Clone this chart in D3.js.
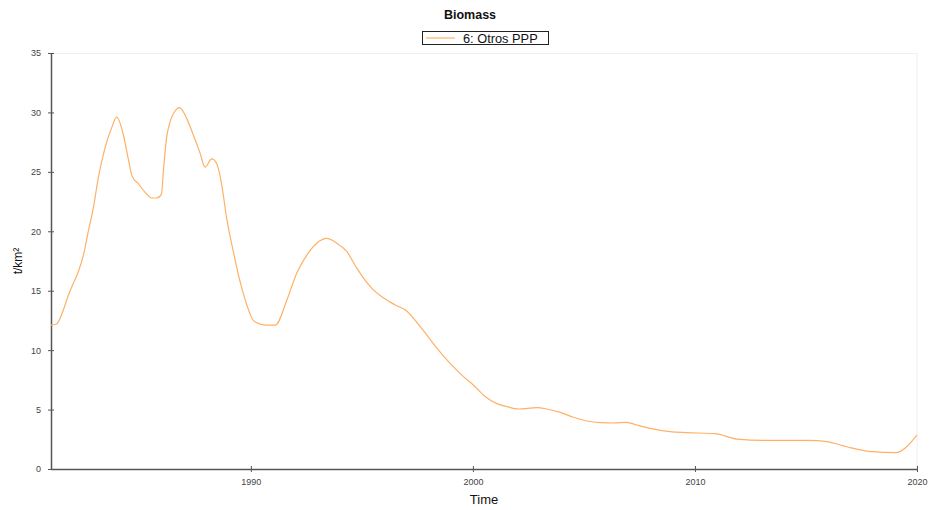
<!DOCTYPE html>
<html lang="en">
<head>
    <meta charset="UTF-8">
    <title>Biomass</title>
    <script src="https://d3js.org/d3.v7.min.js"></script>
    <style>
        body { margin: 0; background: #fff; font-family: "Liberation Sans", Arial, sans-serif; }
    </style>
</head>
<body>
<div id="chart"></div>

<script>
    // data
    var years = [1981.0, 1981.25, 1981.5, 1981.78, 1982.0, 1982.23, 1982.46, 1982.68, 1982.9, 1983.13,
        1983.43, 1983.73, 1983.96, 1984.26, 1984.48, 1984.66, 1984.93, 1985.23, 1985.54, 1985.76,
        1985.97, 1986.08, 1986.2, 1986.36, 1986.58, 1986.78, 1987.11, 1987.41, 1987.71, 1987.94,
        1988.24, 1988.46, 1988.69, 1988.91, 1989.21, 1989.51, 1989.82, 1990.11, 1990.41, 1990.7,
        1991.1, 1991.62, 1992.07, 1992.52, 1992.97, 1993.42, 1993.87, 1994.32, 1994.77, 1995.45,
        1995.97, 1996.5, 1997.02, 1997.62, 1998.37, 1998.97, 1999.5, 2000.02, 2000.55, 2001.08,
        2001.53, 2002.05, 2002.88, 2003.33, 2003.93, 2004.53, 2005.13, 2005.73, 2006.33, 2006.93,
        2007.38, 2007.98, 2008.88, 2009.63, 2010.91, 2011.89, 2013.24, 2015.11, 2015.94, 2016.99,
        2017.97, 2019.02, 2020.0];
    var biomass = [12.1, 12.2, 13.1, 14.6, 15.6, 16.6, 18.0, 20.0, 21.9, 24.5,
        27.0, 28.7, 29.6, 28.1, 26.1, 24.6, 24.0, 23.3, 22.8, 22.8,
        23.1, 25.5, 27.8, 29.2, 30.1, 30.4, 29.5, 28.1, 26.6, 25.4,
        26.1, 25.7, 23.9, 21.1, 18.3, 15.8, 13.8, 12.5, 12.2, 12.1,
        12.1, 14.2, 16.5, 18.0, 19.0, 19.4, 19.0, 18.3, 16.9, 15.2,
        14.4, 13.8, 13.3, 12.0, 10.2, 8.9, 7.9, 7.07, 6.1, 5.5,
        5.25, 5.05, 5.16, 5.05, 4.77, 4.35, 4.04, 3.9, 3.87, 3.93,
        3.7, 3.42, 3.14, 3.06, 2.97, 2.52, 2.41, 2.41, 2.30, 1.8,
        1.46, 1.37, 2.86];
    var xTicks = [1990, 2000, 2010, 2020];
    var yTicks = [0, 5, 10, 15, 20, 25, 30, 35];
    var seriesName = "6: Otros PPP";

    var width = 930, height = 510;
    var margin = {top: 53, right: 13, bottom: 41, left: 51};
    var innerW = width - margin.left - margin.right,
        innerH = height - margin.top - margin.bottom;
    var lineColor = "#ffb066";

    var svg = d3.select("#chart").append("svg")
        .attr("width", width)
        .attr("height", height);

    var g = svg.append("g")
        .attr("transform", "translate(" + margin.left + "," + margin.top + ")");

    var x = d3.scaleLinear().domain([1981, 2020]).range([0, innerW]);
    var y = d3.scaleLinear().domain([0, 35]).range([innerH, 0]);

    // faint frame on top and right
    g.append("path")
        .attr("d", "M0,0.5H" + innerW + "V" + innerH)
        .attr("fill", "none")
        .attr("stroke", "#eeeeee");

    // axes
    var xAxis = g.append("g")
        .attr("transform", "translate(0," + innerH + ")")
        .call(d3.axisBottom(x).tickValues(xTicks).tickFormat(d3.format("d"))
            .tickSizeInner(3).tickSizeOuter(0).tickPadding(7));
    var yAxis = g.append("g")
        .call(d3.axisLeft(y).tickValues(yTicks).tickSizeInner(3).tickSizeOuter(0).tickPadding(7));

    [xAxis, yAxis].forEach(function (a) {
        a.select(".domain").attr("stroke", "#555").attr("stroke-width", 1.5);
        a.selectAll(".tick line").attr("stroke", "#555");
        a.selectAll(".tick text")
            .attr("fill", "#444")
            .style("font-size", "9px")
            .style("font-family", "'Liberation Sans', Arial, sans-serif");
    });
    // ticks cross the axis lines
    xAxis.selectAll(".tick line").attr("y1", -3).attr("y2", 3);
    yAxis.selectAll(".tick line").attr("x1", -3).attr("x2", 3);

    // line
    var data = years.map(function (t, i) {
        return {t: t, v: biomass[i]};
    });
    g.append("path")
        .datum(data)
        .attr("fill", "none")
        .attr("stroke", lineColor)
        .attr("stroke-width", 1.2)
        .attr("d", d3.line()
            .curve(d3.curveMonotoneX)
            .x(function (d) { return x(d.t); })
            .y(function (d) { return y(d.v); }));

    // title
    svg.append("text")
        .attr("x", 470)
        .attr("y", 19)
        .attr("text-anchor", "middle")
        .style("font-size", "12.5px")
        .style("font-weight", "bold")
        .attr("fill", "#111")
        .text("Biomass");

    // legend
    var legend = svg.append("g").attr("transform", "translate(422,31)");
    legend.append("rect")
        .attr("x", 0.5).attr("y", 0.5)
        .attr("width", 126).attr("height", 13)
        .attr("fill", "#fff")
        .attr("stroke", "#222");
    legend.append("line")
        .attr("x1", 4).attr("x2", 33)
        .attr("y1", 7).attr("y2", 7)
        .attr("stroke", lineColor)
        .attr("stroke-width", 1.2);
    legend.append("text")
        .attr("x", 41)
        .attr("y", 11.5)
        .style("font-size", "12.8px")
        .attr("fill", "#111")
        .text(seriesName);

    // axis titles
    svg.append("text")
        .attr("x", margin.left + x(2000.5))
        .attr("y", 504)
        .attr("text-anchor", "middle")
        .style("font-size", "13px")
        .attr("fill", "#111")
        .text("Time");

    svg.append("text")
        .attr("transform", "translate(22," + (margin.top + innerH / 2) + ") rotate(-90)")
        .attr("text-anchor", "middle")
        .style("font-size", "12px")
        .attr("fill", "#111")
        .text("t/km²");
</script>
</body>
</html>
